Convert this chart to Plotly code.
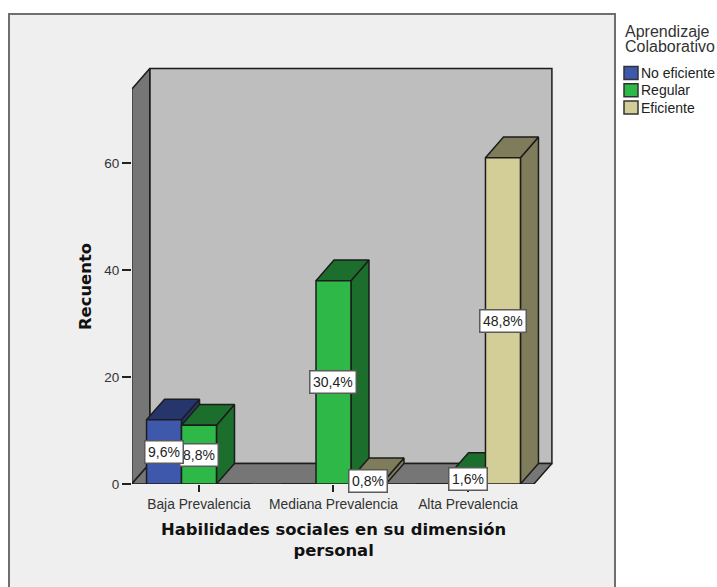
import plotly.graph_objects as go

categories = ["Baja Prevalencia", "Mediana Prevalencia", "Alta Prevalencia"]
series_names = ["No eficiente", "Regular", "Eficiente"]
no_eficiente = [12, 0, 0]
regular = [11, 38, 2]
eficiente = [0, 1, 61]
pct_no_eficiente = ["9,6%", None, None]
pct_regular = ["8,8%", "30,4%", "1,6%"]
pct_eficiente = [None, "0,8%", "48,8%"]
y_ticks = [0, 20, 40, 60]

FRONT = ["#3E58AC", "#2EB848", "#D3CE97"]
DARK = ["#26356B", "#1C6E2C", "#7F7C5B"]
OUTLINE = "#1c1c1c"
W, H = 717, 587
L, R, T, B = 132, 556, 66, 484
BAR_W = 0.26
DX, DY = 0.134, 3.85
YTOP = 73.8
x_range = [-0.498, -0.498 + (R - L) / 134.5]
y_range = [0, (B - T) / 5.35]

fig = go.Figure()


def poly(xs, ys, color, width=1.5):
    fig.add_trace(go.Scatter(x=xs + xs[:1], y=ys + ys[:1], mode="lines", fill="toself",
                             fillcolor=color, line=dict(color=OUTLINE, width=width),
                             showlegend=False, hoverinfo="skip", xaxis="x", yaxis="y"))


# walls and floor
xl, xr = -0.5, 2.49
poly([xl + DX, xr + DX, xr + DX, xl + DX], [DY, DY, YTOP + DY, YTOP + DY], "#BEBEBE")
poly([xl, xl + DX, xl + DX, xl], [0, DY, YTOP + DY, YTOP], "#767676")
poly([xl, xr, xr + DX, xl + DX], [0, 0, DY, DY], "#767676")

# depth faces of the bars
all_series = [no_eficiente, regular, eficiente]
for c in range(len(categories)):
    for k, vals in enumerate(all_series):
        v = vals[c]
        if not v:
            continue
        x0 = c + (k - 1.5) * BAR_W
        x1 = x0 + BAR_W
        poly([x1, x1 + DX, x1 + DX, x1], [0, DY, v + DY, v], DARK[k])
        poly([x0, x1, x1 + DX, x0 + DX], [v, v, v + DY, v + DY], DARK[k])

# front faces, on an overlay so they cover every depth face
for k, vals in enumerate(all_series):
    fig.add_trace(go.Bar(x=list(range(len(categories))), y=vals, name=series_names[k],
                         marker=dict(color=FRONT[k], line=dict(color=OUTLINE, width=1.5)),
                         xaxis="x2", yaxis="y2", showlegend=False))

ax_common = dict(range=x_range, domain=[L / W, R / W], showgrid=False, zeroline=False)
ay_common = dict(range=y_range, domain=[(H - B) / H, (H - T) / H], showgrid=False, zeroline=False)

annotations = []
# value labels (drawn in this order so that 9,6% lies over 8,8%)
for k, labels in [(2, pct_eficiente), (1, pct_regular), (0, pct_no_eficiente)]:
    for c, t in enumerate(labels):
        if t is None:
            continue
        annotations.append(dict(
            x=c + (k - 1) * BAR_W, y=all_series[k][c] / 2, xref="x2", yref="y2", text=t,
            showarrow=False, bgcolor="white", bordercolor="#5a5a5a", borderwidth=1.5,
            borderpad=2.5, font=dict(family="Liberation Sans", size=14, color="#222")))

annotations += [
    dict(x=333 / W, y=1 - 540 / H, xref="paper", yref="paper", showarrow=False, align="center",
         xanchor="center", yanchor="middle",
         text="<b>Habilidades sociales en su dimensión<br>personal</b>",
         font=dict(family="DejaVu Sans", size=16.4, color="#111")),
    dict(x=85 / W, y=1 - 287 / H, xref="paper", yref="paper", showarrow=False, textangle=-90,
         xanchor="center", yanchor="middle",
         text="<b>Recuento</b>", font=dict(family="DejaVu Sans", size=16.4, color="#111")),
    dict(x=625 / W, y=1 - 31 / H, xref="paper", yref="paper", showarrow=False, xanchor="left",
         yanchor="middle", xshift=-2,
         text="Aprendizaje", font=dict(family="Liberation Sans", size=16, color="#333")),
    dict(x=625 / W, y=1 - 47 / H, xref="paper", yref="paper", showarrow=False, xanchor="left",
         yanchor="middle", xshift=-2,
         text="Colaborativo", font=dict(family="Liberation Sans", size=16, color="#333")),
]

shapes = [dict(type="rect", xref="paper", yref="paper", layer="below",
               x0=9 / W, x1=615 / W, y0=-0.05, y1=1 - 14 / H,
               fillcolor="#EFEFEF", line=dict(color="#6f6f6f", width=2))]
for k, name in enumerate(series_names):
    yc = 73 + 17.3 * k
    shapes.append(dict(type="rect", xref="paper", yref="paper", layer="above",
                       x0=624 / W, x1=638 / W, y0=1 - (yc + 6.5) / H, y1=1 - (yc - 6.5) / H,
                       fillcolor=FRONT[k], line=dict(color="#333", width=1.5)))
    annotations.append(dict(x=640.5 / W, y=1 - yc / H, xref="paper", yref="paper", showarrow=False,
                            xanchor="left", yanchor="middle", xshift=-2, text=name,
                            font=dict(family="Liberation Sans", size=14, color="#222")))

fig.update_layout(
    width=W, height=H, margin=dict(l=0, r=0, t=0, b=0, autoexpand=False), paper_bgcolor="white",
    plot_bgcolor="rgba(0,0,0,0)", barmode="group", bargap=0.22, bargroupgap=0,
    showlegend=False, shapes=shapes, annotations=annotations,
    xaxis=dict(**ax_common, tickmode="array", tickvals=[0, 1, 2], ticktext=categories,
               ticks="outside", ticklen=7, tickwidth=1.5, tickcolor="#222",
               tickfont=dict(family="Liberation Sans", size=13.8, color="#333")),
    yaxis=dict(**ay_common, tickmode="array", tickvals=y_ticks, ticks="outside", ticklen=9,
               tickwidth=1.5, tickcolor="#222",
               tickfont=dict(family="Liberation Sans", size=13.5, color="#333")),
    xaxis2=dict(**ax_common, overlaying="x", visible=False, anchor="y2"),
    yaxis2=dict(**ay_common, overlaying="y", visible=False, anchor="x2"),
)

fig.write_html("out.html", config={"displayModeBar": False},
               post_script="document.body.style.margin='0';document.documentElement.style.overflow='hidden';")
